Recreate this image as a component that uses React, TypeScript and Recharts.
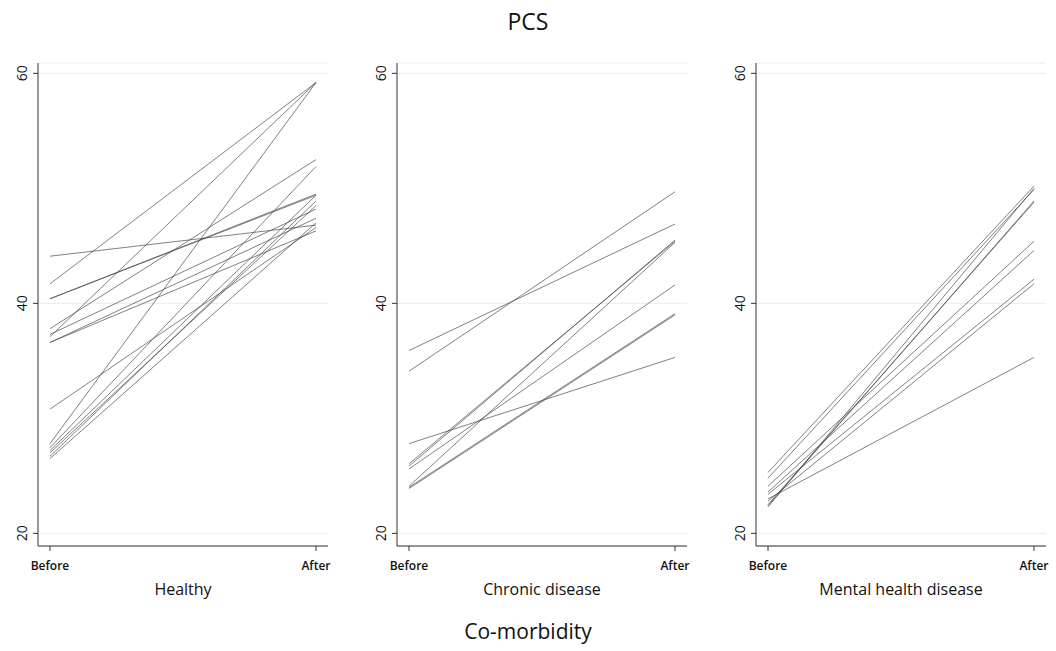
import React from 'react';
import { LineChart, Line, XAxis, YAxis, CartesianGrid } from 'recharts';

// PCS before/after per person
const healthyBefore = [44.1, 41.7, 40.4, 40.4, 37.8, 37.3, 37.1, 36.6, 36.6, 30.8, 27.8, 27.45, 27.2, 27.0, 26.5, 26.7];
const healthyAfter = [46.8, 59.2, 49.4, 49.5, 52.5, 48.2, 59.2, 47.4, 46.3, 46.6, 59.2, 51.9, 49.4, 48.5, 47.0, 48.9];

const chronicBefore = [35.9, 34.1, 27.8, 26.05, 25.85, 25.6, 24.1, 23.9, 24.0];
const chronicAfter = [46.9, 49.7, 35.3, 45.4, 45.5, 41.6, 45.3, 39.0, 39.1];

const mentalBefore = [25.3, 24.8, 24.1, 23.4, 23.0, 22.8, 22.3, 22.5, 22.4, 23.6];
const mentalAfter = [50.2, 49.9, 45.4, 42.1, 35.3, 41.7, 50.0, 48.8, 48.9, 44.6];

const timeLabels = ['Before', 'After'];
const yTicks = [20, 40, 60];

const panels = [
  { name: 'Healthy', before: healthyBefore, after: healthyAfter },
  { name: 'Chronic disease', before: chronicBefore, after: chronicAfter },
  { name: 'Mental health disease', before: mentalBefore, after: mentalAfter },
];

const font = '"Open Sans", "Noto Sans", sans-serif';

const buildData = (before: number[], after: number[]) => {
  const first: any = { t: timeLabels[0] };
  const second: any = { t: timeLabels[1] };
  before.forEach((v, i) => { first['s' + i] = v; });
  after.forEach((v, i) => { second['s' + i] = v; });
  return [first, second];
};

const YTick = (props: any) => {
  const { x, y, payload } = props;
  return (
    <text x={x} y={y} transform={`rotate(-90 ${x} ${y})`} textAnchor="middle" fontSize={14} fill="#111" fontFamily={font}>
      {payload.value}
    </text>
  );
};

const Panel = ({ before, after }: { before: number[]; after: number[] }) => {
  const data = buildData(before, after);
  return (
    <LineChart width={338} height={610} data={data} margin={{ top: 63, right: 10, left: 8, bottom: 0 }}>
      <CartesianGrid vertical={false} stroke="#ececec" />
      <XAxis
        dataKey="t"
        padding={{ left: 12, right: 12 }}
        height={64}
        tickSize={5}
        tickMargin={10}
        stroke="#333"
        tick={{ fontSize: 12, fill: '#111', fontFamily: font, fontWeight: 600 }}
        interval={0}
      />
      <YAxis
        domain={[18.9, 60.9]}
        ticks={yTicks}
        width={30}
        tickSize={5}
        tickMargin={6}
        stroke="#333"
        tick={<YTick />}
        allowDataOverflow
      />
      {before.map((_, i) => (
        <Line
          key={i}
          dataKey={'s' + i}
          stroke="#444"
          strokeWidth={0.8}
          strokeOpacity={0.85}
          dot={false}
          activeDot={false}
          isAnimationActive={false}
        />
      ))}
    </LineChart>
  );
};

const App = () => {
  const lefts = [0, 359, 718];
  return (
    <div style={{ position: 'absolute', left: 0, top: 0, width: 1056, height: 651, background: '#fff', fontFamily: font, color: '#111' }}>
      <div style={{ position: 'absolute', top: 5, width: 1056, textAlign: 'center', fontSize: 23 }}>PCS</div>
      {panels.map((p, i) => (
        <div key={p.name} style={{ position: 'absolute', left: lefts[i], top: 0 }}>
          <Panel before={p.before} after={p.after} />
          <div style={{ position: 'absolute', left: 38, width: 290, top: 578, textAlign: 'center', fontSize: 16 }}>{p.name}</div>
        </div>
      ))}
      <div style={{ position: 'absolute', top: 617, width: 1056, textAlign: 'center', fontSize: 21 }}>Co-morbidity</div>
    </div>
  );
};

export default App;
